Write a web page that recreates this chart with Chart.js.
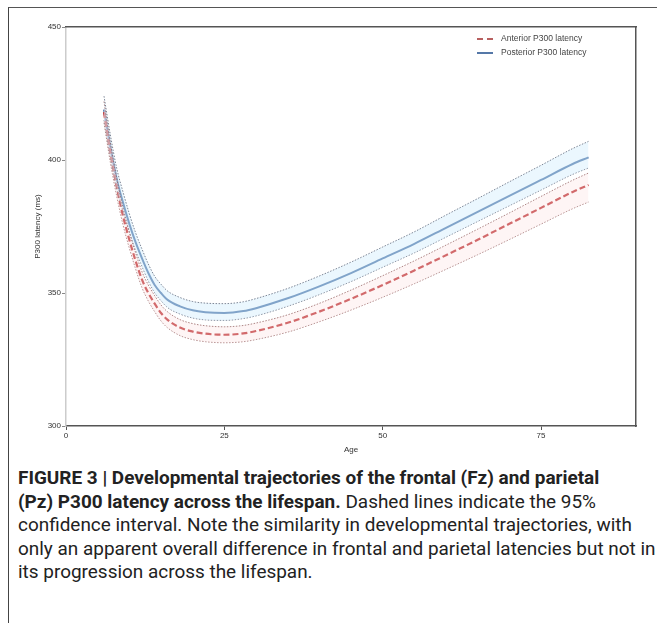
<!DOCTYPE html>
<html>
<head>
<meta charset="utf-8">
<script src="https://cdn.jsdelivr.net/npm/chart.js@4/dist/chart.umd.min.js"></script>
<style>
  html, body { margin: 0; padding: 0; background: #fff; }
  body { width: 657px; height: 623px; position: relative; overflow: hidden; }
  .frame { position: absolute; left: 8px; top: 7px; right: -4px; bottom: -4px;
           border-left: 1.5px solid #444; border-top: 1.5px solid #555; }
  .plot { position: absolute; left: 0; top: 0; width: 657px; height: 455px; }
  .legend { position: absolute; left: 477px; top: 32px; font: 8.5px "Liberation Sans", Arial, sans-serif; color: #444; }
  .legend div { height: 14px; line-height: 12px; white-space: nowrap; }
  .legend .smp { display: inline-block; width: 16px; vertical-align: middle; margin-right: 8px; }
  .smp.ant { border-top: 2px dashed #b86060; }
  .smp.post { border-top: 2px solid #5578a8; }
  .caption { position: absolute; left: 18px; top: 466px; white-space: nowrap;
             font: 18.95px Roboto, "Liberation Sans", sans-serif; line-height: 23.5px; color: #222; }
  .caption b { font-weight: 700; }
</style>
</head>
<body>
<div class="frame"></div>
<div class="plot"><canvas id="c" width="657" height="455"></canvas></div>
<div class="legend">
  <div><span class="smp ant"></span>Anterior P300 latency</div>
  <div><span class="smp post"></span>Posterior P300 latency</div>
</div>
<div class="caption"><b>FIGURE 3 | Developmental trajectories of the frontal (Fz) and parietal</b><br><b>(Pz) P300 latency across the lifespan.</b> Dashed lines indicate the 95%<br>confidence interval. Note the similarity in developmental trajectories, with<br>only an apparent overall difference in frontal and parietal latencies but not in<br>its progression across the lifespan.</div>
<script>
// Alter in Jahren (x) und Latenzen in ms
const ages = [6, 7, 8, 9, 10, 11, 12, 13, 14, 15, 16, 18, 20, 22, 25, 28, 30, 35, 40, 45, 50, 55, 60, 65, 70, 75, 80, 82.5];

const posterior      = [419, 405, 393, 384, 376, 369, 363, 357.5, 353, 350, 347.5, 345, 343.5, 342.8, 342.5, 343.2, 344.3, 348, 352.5, 357.5, 363, 368.5, 374.5, 380.5, 386.5, 392.5, 398.5, 401];
const posteriorUpper = [424, 409.5, 397, 388, 379.8, 372.6, 366.5, 360.9, 356.3, 353.3, 350.8, 348.3, 346.8, 346.2, 346, 346.7, 347.9, 351.7, 356.4, 361.6, 367.3, 373, 379.3, 385.5, 391.8, 398, 404.3, 407];
const posteriorLower = [415, 401.2, 389.5, 380.7, 372.8, 366, 360, 354.5, 350.1, 347.1, 344.6, 342.1, 340.6, 339.9, 339.7, 340.4, 341.4, 345, 349.4, 354.3, 359.7, 365.1, 371, 376.9, 382.8, 388.7, 394.6, 397];

const anterior      = [418, 403, 390, 379, 370, 362, 355, 350, 346, 342.5, 340, 337, 335.5, 334.7, 334.3, 334.8, 335.7, 338.8, 343, 347.8, 353, 358.5, 364.2, 370, 376, 382, 388, 390.6];
const anteriorUpper = [422, 406.6, 393.3, 382.1, 373, 365, 358, 353, 349, 345.5, 343, 340, 338.5, 337.7, 337.3, 337.8, 338.7, 341.8, 346.1, 351.1, 356.5, 362.1, 368, 374, 380.1, 386.3, 392.4, 395.1];
const anteriorLower = [414, 399.2, 386.5, 375.7, 366.9, 359, 352, 347, 343, 339.5, 337, 334, 332.5, 331.7, 331.3, 331.7, 332.5, 335.3, 339.2, 343.6, 348.4, 353.5, 358.9, 364.4, 370.1, 375.9, 381.7, 384.2];

const xTicks = [0, 25, 50, 75];
const yTicks = [300, 350, 400, 450];

const pts = (ys) => ages.map((a, i) => ({ x: a, y: ys[i] }));

const FONT = { family: '"Liberation Sans", Arial, sans-serif', size: 8 };

// CI-Linien: dünn gepunktet, Band sehr blass gefüllt
function ciSet(ys, color, fill, bg) {
  return {
    data: pts(ys), borderColor: color, borderWidth: 1, borderDash: [1.5, 1.5],
    pointRadius: 0, fill: fill, backgroundColor: bg, cubicInterpolationMode: 'monotone',
  };
}

new Chart(document.getElementById('c'), {
  type: 'line',
  data: {
    datasets: [
      ciSet(anteriorUpper, 'rgba(140,85,85,0.7)', 1, 'rgba(252,222,222,0.3)'),
      ciSet(anteriorLower, 'rgba(140,85,85,0.7)', false),
      ciSet(posteriorUpper, 'rgba(85,95,115,0.75)', 3, 'rgba(205,235,252,0.4)'),
      ciSet(posteriorLower, 'rgba(85,95,115,0.75)', false),
      {
        label: 'Anterior P300 latency', data: pts(anterior),
        borderColor: '#c0393b', borderWidth: 2.2, borderDash: [6, 3],
        pointRadius: 0, fill: false, cubicInterpolationMode: 'monotone',
      },
      {
        label: 'Posterior P300 latency', data: pts(posterior),
        borderColor: '#4f76a8', borderWidth: 2, pointRadius: 0, fill: false,
        cubicInterpolationMode: 'monotone',
      },
    ],
  },
  options: {
    responsive: false,
    animation: false,
    layout: { padding: { left: 0, top: 27, right: 21, bottom: 0 } },
    plugins: { legend: { display: false }, tooltip: { enabled: false } },
    scales: {
      x: {
        type: 'linear', min: 0, max: 90,
        afterBuildTicks: (s) => { s.ticks = xTicks.map((v) => ({ value: v })); },
        afterFit: (s) => { s.height = 29; },
        ticks: { font: FONT, color: '#333', padding: 1 },
        grid: { drawOnChartArea: false, tickLength: 4, color: '#555' },
        border: { color: '#555', width: 1.5 },
        title: { display: true, text: 'Age', font: FONT, color: '#333', padding: 0 },
      },
      y: {
        min: 300, max: 450,
        afterBuildTicks: (s) => { s.ticks = yTicks.map((v) => ({ value: v })); },
        afterFit: (s) => { s.width = 66; },
        ticks: { font: FONT, color: '#333', padding: 1 },
        grid: { drawOnChartArea: false, tickLength: 4, color: '#888' },
        border: { color: '#ccc', width: 1.5 },
        title: { display: true, text: 'P300 latency (ms)', font: FONT, color: '#333', padding: { top: 33, bottom: 0 } },
      },
      xTop: {
        type: 'linear', position: 'top', min: 0, max: 90,
        afterFit: (s) => { s.height = 0; },
        ticks: { display: false }, grid: { display: false },
        border: { color: '#555', width: 1.5 },
      },
      yRight: {
        position: 'right', min: 300, max: 450,
        afterFit: (s) => { s.width = 0; },
        ticks: { display: false }, grid: { display: false },
        border: { color: '#555', width: 1.5 },
      },
    },
  },
});
</script>
</body>
</html>
